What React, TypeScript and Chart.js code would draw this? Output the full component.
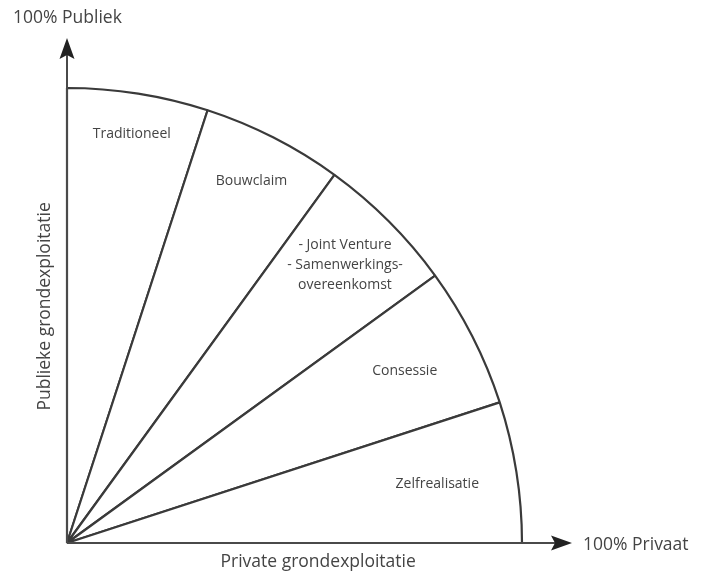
import React, { useEffect, useRef } from "react";
import { Chart, registerables } from "chart.js";

Chart.register(...registerables);

// Categories (clockwise from the public axis) and their share of the quarter circle
const sectorLabels: (string | string[])[] = [
  "Traditioneel",
  "Bouwclaim",
  ["- Joint Venture", "- Samenwerkings-", "overeenkomst"],
  "Consessie",
  "Zelfrealisatie",
];
const sectorShares: number[] = [20, 20, 20, 20, 20];

// Axis texts
const axisTopLabel = "100% Publiek";
const axisRightLabel = "100% Privaat";
const axisXTitle = "Private grondexploitatie";
const axisYTitle = "Publieke grondexploitatie";

const INK = "#3a3a3a";
const TEXT = "#444444";
const FONT = "'Open Sans', 'DejaVu Sans', sans-serif";

// label placement: fraction of the radius for each sector label
const labelRadius = [0.91, 0.893, 0.864, 0.833, 0.824];

const quadrantPlugin = {
  id: "quadrantDecor",
  afterDraw(chart: any) {
    const meta = chart.getDatasetMeta(0);
    const arcs = meta.data;
    if (!arcs || !arcs.length) return;
    const ox = arcs[0].x;
    const oy = arcs[0].y;
    const R = arcs[0].outerRadius;
    const ctx: CanvasRenderingContext2D = chart.ctx;
    ctx.save();

    // axes
    const yTip = oy - (R + 50);
    const xTip = ox + (R + 50);
    ctx.strokeStyle = "#4a4a4a";
    ctx.lineWidth = 2;
    ctx.beginPath();
    ctx.moveTo(ox, oy);
    ctx.lineTo(ox, yTip + 12);
    ctx.moveTo(ox, oy);
    ctx.lineTo(xTip - 12, oy);
    ctx.stroke();

    ctx.fillStyle = "#222";
    // arrow up
    ctx.beginPath();
    ctx.moveTo(ox, yTip);
    ctx.lineTo(ox + 7.5, yTip + 21);
    ctx.lineTo(ox, yTip + 17);
    ctx.lineTo(ox - 7.5, yTip + 21);
    ctx.closePath();
    ctx.fill();
    // arrow right
    ctx.beginPath();
    ctx.moveTo(xTip, oy);
    ctx.lineTo(xTip - 21, oy - 7.5);
    ctx.lineTo(xTip - 17, oy);
    ctx.lineTo(xTip - 21, oy + 7.5);
    ctx.closePath();
    ctx.fill();

    // axis texts
    ctx.fillStyle = TEXT;
    ctx.font = `17.5px ${FONT}`;
    ctx.textBaseline = "middle";
    ctx.textAlign = "left";
    ctx.fillText(axisTopLabel, ox - 54, yTip - 20);
    ctx.fillText(axisRightLabel, xTip + 11, oy + 2);
    ctx.textAlign = "center";
    ctx.fillText(axisXTitle, ox + R * 0.552, oy + 19);
    ctx.save();
    ctx.translate(ox - 22, oy - R * 0.52);
    ctx.rotate(-Math.PI / 2);
    ctx.fillText(axisYTitle, 0, 0);
    ctx.restore();

    // sector labels
    ctx.font = `14px ${FONT}`;
    ctx.textAlign = "center";
    arcs.forEach((arc: any, i: number) => {
      const mid = (arc.startAngle + arc.endAngle) / 2;
      const r = R * labelRadius[i];
      const cx = ox + Math.cos(mid) * r;
      const cy = oy + Math.sin(mid) * r;
      const lbl = chart.data.labels[i];
      const lines = Array.isArray(lbl) ? lbl : [lbl];
      const lh = 20;
      lines.forEach((t: string, j: number) => {
        ctx.fillText(t, cx, cy + (j - (lines.length - 1) / 2) * lh);
      });
    });
    ctx.restore();
  },
};

export default function App() {
  const ref = useRef<HTMLCanvasElement | null>(null);
  useEffect(() => {
    if (!ref.current) return;
    const chart = new Chart(ref.current, {
      type: "pie",
      data: {
        labels: sectorLabels as any,
        datasets: [
          {
            data: sectorShares,
            backgroundColor: "#ffffff",
            borderColor: INK,
            borderWidth: 2.2,
            hoverOffset: 0,
          },
        ],
      },
      options: {
        responsive: false,
        animation: false,
        rotation: 0,
        circumference: 90,
        radius: 455,
        layout: { padding: { left: 67, right: 183, top: 88, bottom: 29 } },
        plugins: {
          legend: { display: false },
          tooltip: { enabled: false },
          title: { display: false },
        },
        events: [],
      } as any,
      plugins: [quadrantPlugin],
    });
    return () => chart.destroy();
  }, []);
  return (
    <div style={{ position: "fixed", left: 0, top: 0, width: 705, height: 572, background: "#fff" }}>
      <canvas ref={ref} width={705} height={572} style={{ width: 705, height: 572, display: "block" }} />
    </div>
  );
}
